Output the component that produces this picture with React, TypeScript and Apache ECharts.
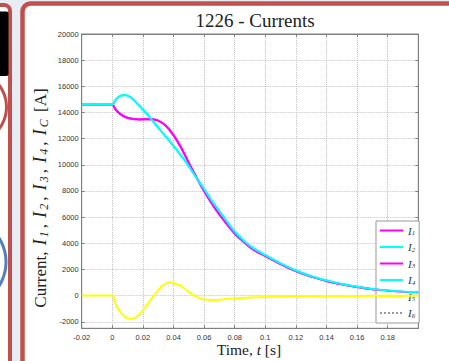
import React, { useEffect, useRef } from "react";
import * as echarts from "echarts";

// ---- data ----
const tMain = [
  -0.02, -0.01, 0, 0.002, 0.004, 0.006, 0.008, 0.01, 0.012, 0.014, 0.016, 0.018, 0.02, 0.022,
  0.025, 0.03, 0.035, 0.04, 0.045, 0.05, 0.055, 0.06, 0.065, 0.07, 0.075, 0.08, 0.085, 0.09,
  0.095, 0.1, 0.105, 0.11, 0.115, 0.12, 0.125, 0.13, 0.135, 0.14, 0.145, 0.15, 0.155, 0.16,
  0.165, 0.17, 0.175, 0.18, 0.185, 0.19, 0.195, 0.2,
];
// magenta (I1, I3)
const iMagenta = [
  14600, 14600, 14600, 14250, 14000, 13820, 13690, 13600, 13540, 13500, 13480, 13470, 13480, 13490,
  13480, 13380, 12980, 12270, 11300, 10150, 9050, 8000, 7050, 6200, 5450, 4750, 4200, 3700,
  3320, 3030, 2710, 2410, 2130, 1880, 1650, 1450, 1280, 1120, 980, 860, 750, 650,
  570, 490, 430, 380, 330, 290, 260, 230,
];
// cyan (I2, I4)
const iCyan = [
  14600, 14600, 14600, 14950, 15180, 15300, 15330, 15290, 15170, 14960, 14720, 14480, 14230, 13970,
  13550, 12850, 12150, 11450, 10700, 9900, 9000, 8150, 7250, 6450, 5650, 4900, 4300, 3800,
  3420, 3100, 2770, 2460, 2180, 1920, 1690, 1490, 1310, 1150, 1010, 880, 770, 670,
  590, 510, 450, 400, 350, 310, 280, 250,
];
// yellow (I5)
const tYellow = [
  -0.02, 0, 0.002, 0.004, 0.006, 0.008, 0.01, 0.012, 0.014, 0.016, 0.018, 0.02, 0.022, 0.024,
  0.026, 0.028, 0.03, 0.032, 0.034, 0.036, 0.038, 0.04, 0.042, 0.044, 0.046, 0.048, 0.05, 0.052,
  0.055, 0.058, 0.062, 0.066, 0.07, 0.075, 0.08, 0.09, 0.1, 0.11, 0.12, 0.14, 0.16, 0.18, 0.2,
];
const iYellow = [
  0, 0, -600, -1050, -1370, -1590, -1730, -1780, -1740, -1610, -1400, -1120, -820, -500,
  -180, 130, 420, 680, 870, 990, 1020, 960, 870, 790, 640, 470, 280, 100,
  -80, -220, -310, -330, -310, -260, -210, -150, -110, -80, -60, -40, -25, -15, -10,
];
const seriesNames = ["I1", "I2", "I3", "I4", "I5", "I6"];
const seriesColors = ["#ff00ff", "#00ffff", "#ff00ff", "#00ffff", "#ffff00", "#9a9a9a"];

const zip = (t: number[], v: number[]) => t.map((x, i) => [x, v[i]]);

export default function App() {
  const ref = useRef<HTMLDivElement>(null);
  useEffect(() => {
    if (!ref.current) return;
    const chart = echarts.init(ref.current, undefined, { renderer: "svg" });
    const dataSets = [
      zip(tMain, iMagenta),
      zip(tMain, iCyan),
      zip(tMain, iMagenta),
      zip(tMain, iCyan),
      zip(tYellow, iYellow),
      [] as number[][],
    ];
    const tickFont = { fontFamily: "Liberation Sans, Arial", fontSize: 7.5, color: "#333" };
    const axisCol = "#808080";
    const serif = "Liberation Serif, Times New Roman, serif";
    const option: any = {
      animation: false,
      backgroundColor: "#e8edf5",
      title: {
        text: "1226 - Currents",
        left: 250,
        top: 6,
        textAlign: "center",
        textStyle: { fontFamily: serif, fontSize: 19, fontWeight: "normal", color: "#222" },
      },
      graphic: [
        { type: "rect", z: -10, shape: { x: -40, y: 5, width: 50, height: 420, r: 6 }, style: { fill: "#fff", stroke: "#c0504d", lineWidth: 4 } },
        { type: "rect", z: -9, shape: { x: -5, y: 11.5, width: 13.5, height: 64.5, r: 2 }, style: { fill: "#000" } },
        { type: "circle", z: -9, shape: { cx: -29.5, cy: 107, r: 36 }, style: { fill: "none", stroke: "#c0504d", lineWidth: 3 } },
        { type: "circle", z: -9, shape: { cx: -39, cy: 262, r: 45 }, style: { fill: "none", stroke: "#4f81bd", lineWidth: 3 } },
        { type: "rect", z: -10, shape: { x: 22.5, y: 3.5, width: 480, height: 420, r: 8 }, style: { fill: "#fff", stroke: "#c0504d", lineWidth: 4.5 } },
        {
          type: "text",
          x: 40,
          y: 198,
          rotation: Math.PI / 2,
          style: {
            text: "Current, {i|I}{s|1}, {i|I}{s|2}, {i|I}{s|3}, {i|I}{s|4}, {i|I}{s|C} [A]",
            align: "center",
            verticalAlign: "middle",
            fontFamily: serif,
            fontSize: 17,
            fill: "#222",
            rich: {
              i: { fontFamily: serif, fontSize: 18, fontStyle: "italic", lineHeight: 20, padding: [0, 1, 0, 2], fill: "#222" },
              s: { fontFamily: serif, fontSize: 12, fontStyle: "italic", lineHeight: 11, verticalAlign: "bottom", padding: [0, 3, 0, 1], fill: "#222" },
            },
          },
        },
        {
          type: "text",
          x: 249,
          y: 349,
          style: {
            text: "Time, {i|t} [s]",
            align: "center",
            verticalAlign: "middle",
            fontFamily: serif,
            fontSize: 15.5,
            fill: "#222",
            rich: {
              i: { fontFamily: serif, fontSize: 15.5, fontStyle: "italic", fill: "#222" },
            },
          },
        },
      ],
      legend: {
        orient: "vertical",
        left: 376,
        top: 221,
        backgroundColor: "#fff",
        borderColor: "#999",
        borderWidth: 1,
        padding: [4, 4, 4, 3],
        itemGap: 5,
        itemWidth: 23,
        itemHeight: 12,
        data: seriesNames,
        itemStyle: { opacity: 0 },
        formatter: (name: string) => `{i|I}{s|${name.slice(1)}}`,
        textStyle: {
          color: "#333",
          rich: {
            i: { fontFamily: serif, fontSize: 11, fontStyle: "italic", lineHeight: 12, color: "#333" },
            s: { fontFamily: serif, fontSize: 7, fontStyle: "italic", lineHeight: 7, verticalAlign: "bottom", color: "#333" },
          },
        },
      },
      grid: {
        left: 81.7,
        right: 30.7,
        top: 34,
        bottom: 32.7,
        show: true,
        backgroundColor: "#fff",
        borderColor: axisCol,
        borderWidth: 1,
      },
      xAxis: [
        {
          type: "value",
          min: -0.02,
          max: 0.2,
          interval: 0.02,
          axisLine: { show: true, onZero: false, lineStyle: { color: axisCol } },
          axisTick: { show: true, inside: true, length: 3, lineStyle: { color: axisCol } },
          axisLabel: {
            ...tickFont,
            margin: 5,
            showMaxLabel: false,
            formatter: (v: number) => (v > 0.19 ? "" : String(parseFloat(v.toFixed(2)))),
          },
          splitLine: { show: true, lineStyle: { type: "dotted", color: "#c4c4c4" } },
        },
        {
          type: "value",
          position: "top",
          min: -0.02,
          max: 0.2,
          interval: 0.02,
          axisLine: { show: true, onZero: false, lineStyle: { color: axisCol } },
          axisTick: { show: true, inside: true, length: 3, lineStyle: { color: axisCol } },
          axisLabel: { show: false },
          splitLine: { show: false },
        },
      ],
      yAxis: [
        {
          type: "value",
          min: -2500,
          max: 20000,
          splitNumber: 11,
          axisLine: { show: true, onZero: false, lineStyle: { color: axisCol } },
          axisTick: { show: true, inside: true, length: 3, lineStyle: { color: axisCol } },
          axisLabel: {
            ...tickFont,
            margin: 3,
            formatter: (v: number) => (v < -2100 ? "" : String(Math.round(v))),
          },
          splitLine: { show: true, lineStyle: { type: "dotted", color: "#c4c4c4" } },
        },
        {
          type: "value",
          position: "right",
          min: -2500,
          max: 20000,
          splitNumber: 11,
          axisLine: { show: true, onZero: false, lineStyle: { color: axisCol } },
          axisTick: { show: true, inside: true, length: 3, lineStyle: { color: axisCol } },
          axisLabel: { show: false },
          splitLine: { show: false },
        },
      ],
      series: seriesNames.map((name, k) => ({
        name,
        type: "line",
        xAxisIndex: 0,
        yAxisIndex: 0,
        data: dataSets[k],
        showSymbol: false,
        symbol: "none",
        smooth: 0.3,
        color: seriesColors[k],
        lineStyle: { width: k === 5 ? 1 : 2, color: seriesColors[k], type: k === 5 ? "dotted" : "solid" },
        z: 2 + k,
      })),
    };
    chart.setOption(option);
    return () => chart.dispose();
  }, []);
  return (
    <div
      ref={ref}
      style={{ position: "fixed", left: 0, top: 0, width: 449, height: 361 }}
    />
  );
}
